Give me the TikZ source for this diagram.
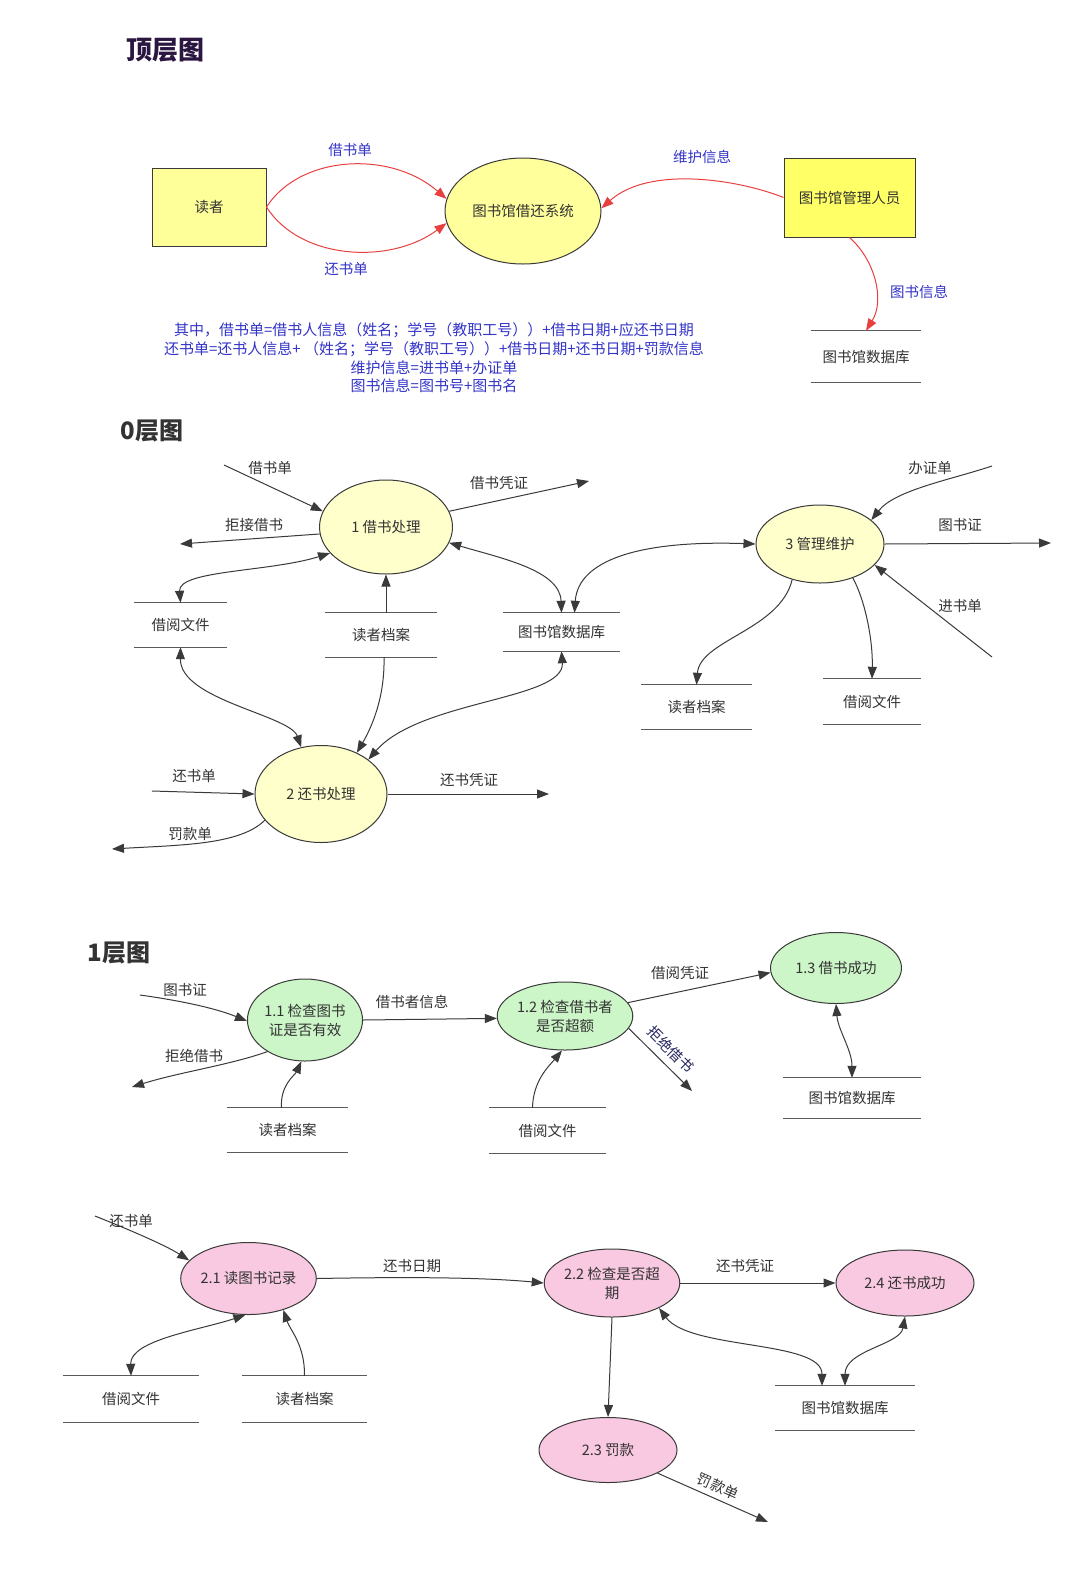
\documentclass[tikz,border=0pt]{standalone}
\usepackage{fontspec}
\setmainfont{Noto Sans CJK SC}
\usetikzlibrary{arrows.meta,shapes.geometric,positioning}
\definecolor{txtgray}{HTML}{333333}
\definecolor{linegray}{HTML}{3A3A3A}
\definecolor{storegray}{HTML}{5A5A5A}
\definecolor{bluetxt}{HTML}{3434C8}
\definecolor{navytxt}{HTML}{262660}
\definecolor{titlepurple}{HTML}{2A1640}
\definecolor{flowred}{HTML}{E8403F}
\definecolor{entyellow}{HTML}{FFFF99}
\definecolor{admyellow}{HTML}{FFFF66}
\definecolor{sysyellow}{HTML}{FFFF9C}
\definecolor{lvlzero}{HTML}{FFFFCC}
\definecolor{lvlone}{HTML}{CCF5C8}
\definecolor{lvltwo}{HTML}{F9C9E1}

\begin{document}
\begin{tikzpicture}[x=1pt,y=-1pt,
    every node/.style={font=\fontsize{14.5}{19}\selectfont, text=txtgray},
    >={Triangle[length=12pt,width=9pt]},
    ent/.style={draw=linegray, line width=1pt},
    proc/.style 2 args={ellipse, draw=linegray, line width=1pt, inner sep=0pt,
        minimum width=#1, minimum height=#2, align=center},
    store/.style={inner sep=0pt, append after command={
        (\tikzlastnode.north west) edge[storeline] (\tikzlastnode.north east)
        (\tikzlastnode.south west) edge[storeline] (\tikzlastnode.south east)}},
    storeline/.style={draw=storegray, line width=1.2pt, -},
    flow/.style={->, draw=linegray, line width=1pt},
    twoway/.style={<->, draw=linegray, line width=1pt},
    redflow/.style={->, draw=flowred, line width=1pt,
        >={Triangle[length=12pt,width=9pt]}},
    blbl/.style={text=bluetxt},
    head/.style={font=\fontsize{24}{28}\selectfont\bfseries}]

  \fill[white] (0,0) rectangle (1080,1569);
  \useasboundingbox (0,0) rectangle (1080,1569);

  % top level
  \node[head, font=\fontsize{26}{30}\selectfont\bfseries, text=titlepurple] (top) at (165,50) {顶层图};
  \node[ent, fill=entyellow, minimum width=114, minimum height=78] (reader) at (209,207) {读者};
  \node[proc={156}{106}, fill=sysyellow] (sys) at (523,211) {图书馆借还系统};
  \node[ent, fill=admyellow, minimum width=131, minimum height=79] (admin) at (849.5,197.5) {图书馆管理人员};
  \node[store, minimum width=110, minimum height=51] (dbtop) at (866,356.5) {图书馆数据库};

  \draw[redflow] (reader.east) .. controls (300,155) and (390,150) .. (sys.171);
  \draw[redflow] (reader.east) .. controls (300,260) and (390,265) .. (sys.189);
  \draw[redflow] (admin.west) .. controls (740,180) and (650,165) .. (sys.2);
  \draw[redflow] (admin.south) .. controls (875,260) and (885,300) .. (dbtop.north);
  \node[blbl] (lborrow) at (350,150) {借书单};
  \node[blbl] (lreturn) at (346,269) {还书单};
  \node[blbl] (lmaint) at (702,157) {维护信息};
  \node[blbl] (lbookinfo) at (919,292) {图书信息};

  \node[blbl, align=center, font=\fontsize{15}{18.7}\selectfont] (notes) at (434,358)
    {其中，借书单=借书人信息（姓名；学号（教职工号））+借书日期+应还书日期\\
     还书单=还书人信息+ （姓名；学号（教职工号））+借书日期+还书日期+罚款信息\\
     维护信息=进书单+办证单\\
     图书信息=图书号+图书名};

  % level 0
  \node[head] (zero) at (152,431) {0层图};
  \node[proc={133}{94}, fill=lvlzero] (p1) at (386,527) {1 借书处理};
  \node[proc={132}{97}, fill=lvlzero] (p2) at (321,794) {2 还书处理};
  \node[proc={128}{78}, fill=lvlzero] (p3) at (820,544) {3 管理维护};
  \node[store, minimum width=93, minimum height=44] (files0) at (180.5,625) {借阅文件};
  \node[store, minimum width=112, minimum height=44] (readers0) at (381,635) {读者档案};
  \node[store, minimum width=117, minimum height=38] (db0) at (561.5,632) {图书馆数据库};
  \node[store, minimum width=111, minimum height=44] (readers0r) at (696.5,707) {读者档案};
  \node[store, minimum width=98, minimum height=45] (files0r) at (872,701.5) {借阅文件};

  \coordinate (bin) at (224,465);
  \coordinate (bout) at (589,481);
  \coordinate (brej) at (180,544);
  \coordinate (cardin) at (992,466);
  \coordinate (cardout) at (1051,543);
  \coordinate (buyin) at (992,657);
  \coordinate (rin) at (152,791);
  \coordinate (rout) at (549,794);
  \coordinate (fineout) at (112,849);

  \draw[flow] (bin) -- (p1.166);
  \draw[flow] (p1.14) -- (bout);
  \draw[flow] (p1.186) -- (brej);
  \draw[twoway] (files0.north) .. controls (178,570) and (270,572) .. (p1.205);
  \draw[flow] (readers0.north -| p1.south) -- (p1.south);
  \draw[twoway] (p1.346) .. controls (500,558) and (560,570) .. (db0.north);
  \draw[twoway] (p3.west) .. controls (640,540) and (578,560) .. ([xshift=13]db0.north);
  \draw[flow] (cardin) .. controls (950,480) and (895,490) .. (p3.25);
  \draw[flow] (p3.east) -- (cardout);
  \draw[flow] (buyin) -- (p3.339);
  \draw[flow] (p3.232) .. controls (780,630) and (700,640) .. (readers0r.north);
  \draw[flow] (p3.314) .. controls (865,600) and (873,640) .. (files0r.north);
  \draw[flow] (rin) -- (p2.west);
  \draw[flow] (p2.east) -- (rout);
  \draw[flow] (p2.205) .. controls (240,845) and (180,845) .. (fineout);
  \draw[twoway] (files0.south) .. controls (180,700) and (290,715) .. (p2.113);
  \draw[flow] ([xshift=3]readers0.south) .. controls (385,700) and (370,730) .. (p2.49);
  \draw[twoway] (db0.south) .. controls (565,700) and (420,700) .. (p2.36);

  \node (l0a) at (270,468) {借书单};
  \node (l0b) at (499,483) {借书凭证};
  \node (l0c) at (254,525) {拒接借书};
  \node (l0d) at (930,468) {办证单};
  \node (l0e) at (960,525) {图书证};
  \node (l0f) at (960,606) {进书单};
  \node (l0g) at (194,776) {还书单};
  \node (l0h) at (469,780) {还书凭证};
  \node (l0i) at (190,834) {罚款单};

  % level 1
  \node[head] (one) at (119,953) {1层图};
  \node[proc={112}{82}, fill=lvlone] (q11) at (305,1020) {1.1 检查图书\\证是否有效};
  \node[proc={128}{68}, fill=lvlone] (q12) at (565,1016) {1.2 检查借书者\\是否超额};
  \node[proc={131}{71}, fill=lvlone] (q13) at (836,968) {1.3 借书成功};
  \node[store, minimum width=121, minimum height=44] (readers1) at (287.5,1130) {读者档案};
  \node[store, minimum width=117, minimum height=45] (files1) at (547.5,1130.5) {借阅文件};
  \node[store, minimum width=138, minimum height=40] (db1) at (852,1098) {图书馆数据库};

  \coordinate (cardin1) at (140,995);
  \coordinate (rejout1) at (132,1087);
  \coordinate (rejout2) at (692,1091);

  \draw[flow] (cardin1) .. controls (190,1002) and (220,1010) .. (q11.181);
  \draw[flow] (q11.220) .. controls (230,1065) and (180,1072) .. (rejout1);
  \draw[flow] ([xshift=-6]readers1.north) .. controls (280,1085) and (295,1075) .. (q11.265);
  \draw[flow] (q11.east) -- (q12.182);
  \draw[flow] ([xshift=-15]files1.north) .. controls (533,1080) and (550,1065) .. (q12.265);
  \draw[flow] (q12.12) -- (q13.184);
  \draw[flow] (q12.349) -- node[sloped, above=4pt, text=navytxt] (lrej2) {拒绝借书} (rejout2);
  \draw[twoway] (q13.south) .. controls (838,1030) and (852,1050) .. (db1.north);

  \node (l1a) at (185,990) {图书证};
  \node (l1b) at (194,1056) {拒绝借书};
  \node (l1c) at (412,1002) {借书者信息};
  \node (l1d) at (680,973) {借阅凭证};

  % level 2
  \node[proc={122}{72}, fill=lvltwo] (r21) at (248.5,1278.5) {2.1 读图书记录};
  \node[proc={134}{68}, fill=lvltwo] (r22) at (612,1283) {2.2 检查是否超\\期};
  \node[proc={138}{65}, fill=lvltwo] (r23) at (608,1450) {2.3 罚款};
  \node[proc={138}{66}, fill=lvltwo] (r24) at (905,1283) {2.4 还书成功};
  \node[store, minimum width=136, minimum height=46] (files2) at (131,1399) {借阅文件};
  \node[store, minimum width=125, minimum height=46] (readers2) at (304.5,1399) {读者档案};
  \node[store, minimum width=140, minimum height=44] (db2) at (845,1408) {图书馆数据库};

  \coordinate (rin2) at (95,1216);
  \coordinate (fineout2) at (768,1522);

  \draw[flow] (rin2) .. controls (130,1230) and (165,1245) .. (r21.163);
  \draw[flow] (r21.east) .. controls (400,1277) and (480,1277) .. (r22.west);
  \draw[twoway] (files2.north) .. controls (130,1340) and (200,1330) .. (r21.265);
  \draw[flow] (readers2.north) .. controls (305,1345) and (290,1330) .. (r21.318);
  \draw[flow] (r22.east) -- (r24.west);
  \draw[twoway] (r22.332) .. controls (690,1350) and (822,1340) .. ([xshift=-23]db2.north);
  \draw[twoway] (r24.south) .. controls (900,1345) and (845,1350) .. (db2.north);
  \draw[flow] (r22.south) -- (r23.north);
  \draw[flow] (r23.335) -- node[sloped, above=2pt] (lfine2) {罚款单} (fineout2);

  \node (l2a) at (131,1221) {还书单};
  \node (l2b) at (412,1266) {还书日期};
  \node (l2c) at (745,1266) {还书凭证};
\end{tikzpicture}
\end{document}
